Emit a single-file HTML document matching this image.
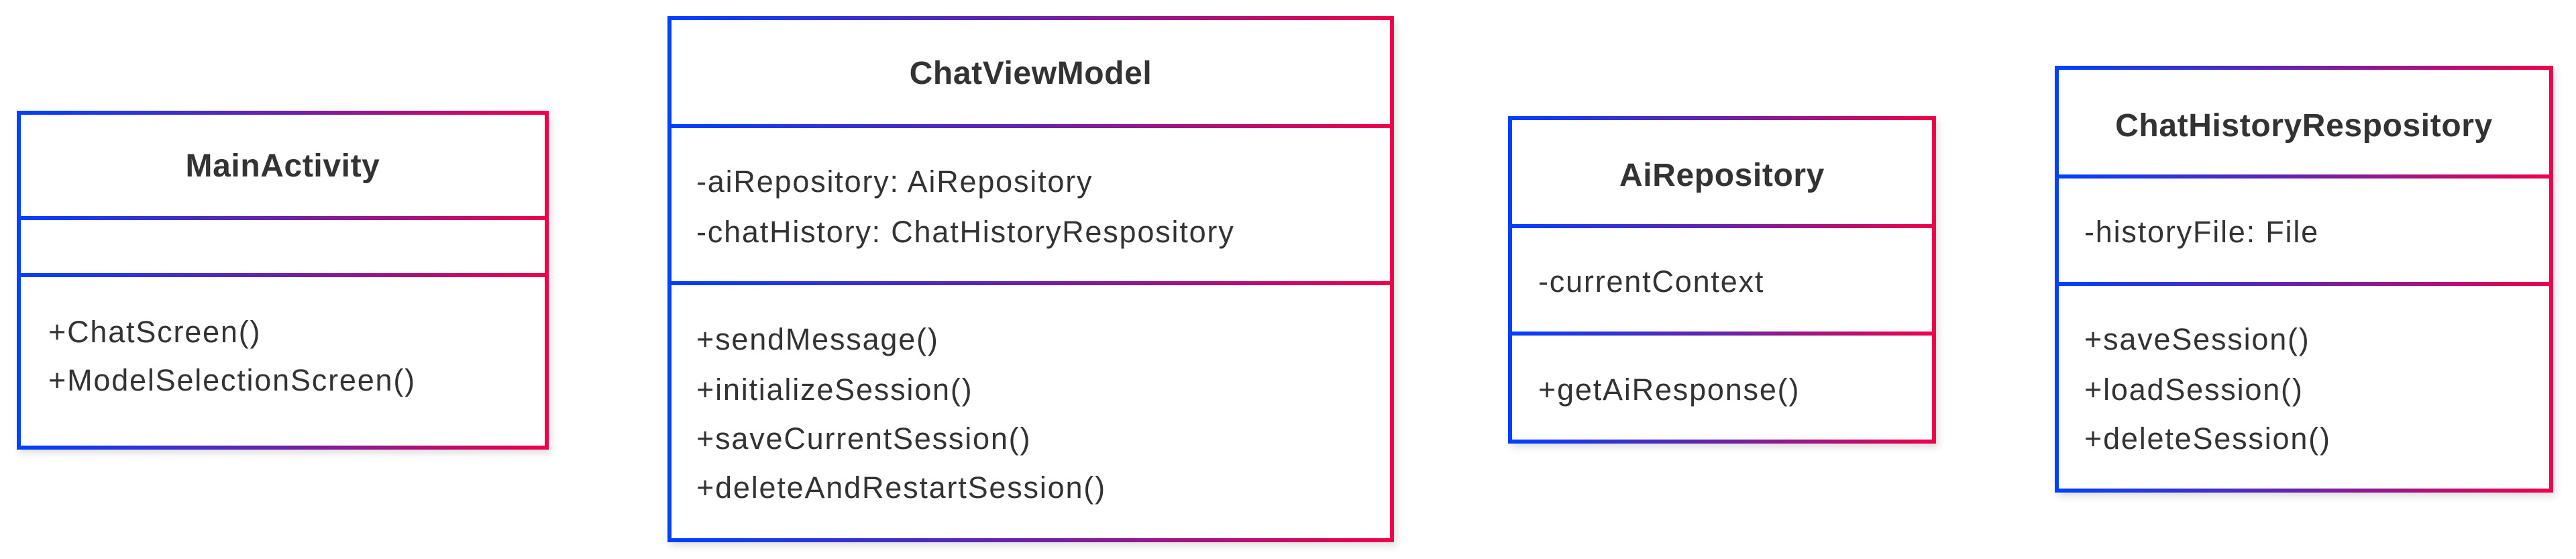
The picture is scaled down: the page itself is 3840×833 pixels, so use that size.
<!DOCTYPE html>
<html><head><meta charset="utf-8"><style>
html,body{margin:0;padding:0;background:#fff;width:3840px;height:833px;overflow:hidden;position:relative}
.box{position:absolute;box-sizing:border-box;border:6px solid;border-image:linear-gradient(to right,#0040ff,#6a22a8 50%,#f0004a) 1;box-shadow:4px 6px 10px rgba(0,0,0,0.12);background:#fff}
.div{position:absolute;height:6px;background:linear-gradient(to right,#0040ff,#6a22a8 50%,#f0004a)}
.t{position:absolute;font-family:"Liberation Sans",Arial,sans-serif;color:#333;font-size:45px;line-height:56px;height:56px;white-space:nowrap;letter-spacing:1.8px}
.h{font-weight:bold;font-size:48px;text-align:center;letter-spacing:0.6px}
</style></head><body>

<!-- MainActivity -->
<div class="box" style="left:25px;top:165px;width:793px;height:505px"></div>
<div class="div" style="left:25px;top:322px;width:793px"></div>
<div class="div" style="left:25px;top:407px;width:793px"></div>
<div class="t h" style="left:25px;width:793px;top:220px">MainActivity</div>
<div class="t" style="left:72px;top:467px">+ChatScreen()</div>
<div class="t" style="left:72px;top:539px">+ModelSelectionScreen()</div>

<!-- ChatViewModel -->
<div class="box" style="left:995px;top:24px;width:1083px;height:784px"></div>
<div class="div" style="left:995px;top:185px;width:1083px"></div>
<div class="div" style="left:995px;top:419px;width:1083px"></div>
<div class="t h" style="left:995px;width:1083px;top:82px">ChatViewModel</div>
<div class="t" style="left:1038px;top:243px">-aiRepository: AiRepository</div>
<div class="t" style="left:1038px;top:318px">-chatHistory: ChatHistoryRespository</div>
<div class="t" style="left:1038px;top:478px">+sendMessage()</div>
<div class="t" style="left:1038px;top:553px">+initializeSession()</div>
<div class="t" style="left:1038px;top:626px">+saveCurrentSession()</div>
<div class="t" style="left:1038px;top:699px">+deleteAndRestartSession()</div>

<!-- AiRepository -->
<div class="box" style="left:2248px;top:173px;width:638px;height:488px"></div>
<div class="div" style="left:2248px;top:334px;width:638px"></div>
<div class="div" style="left:2248px;top:494px;width:638px"></div>
<div class="t h" style="left:2248px;width:638px;top:234px">AiRepository</div>
<div class="t" style="left:2293px;top:392px">-currentContext</div>
<div class="t" style="left:2293px;top:553px">+getAiResponse()</div>

<!-- ChatHistoryRespository -->
<div class="box" style="left:3063px;top:98px;width:743px;height:636px"></div>
<div class="div" style="left:3063px;top:260px;width:743px"></div>
<div class="div" style="left:3063px;top:420px;width:743px"></div>
<div class="t h" style="left:3063px;width:743px;top:160px">ChatHistoryRespository</div>
<div class="t" style="left:3107px;top:318px">-historyFile: File</div>
<div class="t" style="left:3107px;top:478px">+saveSession()</div>
<div class="t" style="left:3107px;top:553px">+loadSession()</div>
<div class="t" style="left:3107px;top:626px">+deleteSession()</div>

</body></html>
